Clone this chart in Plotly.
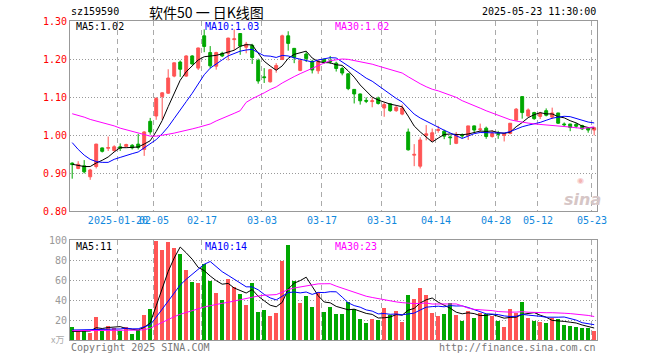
import pandas as pd
import plotly.graph_objects as go

dates = [
    "2025-01-08", "2025-01-09", "2025-01-10", "2025-01-13", "2025-01-14", "2025-01-15", "2025-01-16",
    "2025-01-17", "2025-01-20", "2025-01-21", "2025-01-22", "2025-01-23", "2025-01-24", "2025-01-27",
    "2025-02-05", "2025-02-06", "2025-02-07", "2025-02-10", "2025-02-11", "2025-02-12", "2025-02-13",
    "2025-02-14", "2025-02-17", "2025-02-18", "2025-02-19", "2025-02-20", "2025-02-21", "2025-02-24",
    "2025-02-25", "2025-02-26", "2025-02-27", "2025-02-28",
    "2025-03-03", "2025-03-04", "2025-03-05", "2025-03-06", "2025-03-07", "2025-03-10", "2025-03-11",
    "2025-03-12", "2025-03-13", "2025-03-14", "2025-03-17", "2025-03-18", "2025-03-19", "2025-03-20",
    "2025-03-21", "2025-03-24", "2025-03-25", "2025-03-26", "2025-03-27", "2025-03-28", "2025-03-31",
    "2025-04-01", "2025-04-02", "2025-04-03", "2025-04-07", "2025-04-08", "2025-04-09", "2025-04-10",
    "2025-04-11", "2025-04-14", "2025-04-15", "2025-04-16", "2025-04-17", "2025-04-18", "2025-04-21",
    "2025-04-22", "2025-04-23", "2025-04-24", "2025-04-25", "2025-04-28", "2025-04-29", "2025-04-30",
    "2025-05-06", "2025-05-07", "2025-05-08", "2025-05-09", "2025-05-12", "2025-05-13", "2025-05-14",
    "2025-05-15", "2025-05-16", "2025-05-19", "2025-05-20", "2025-05-21", "2025-05-22", "2025-05-23",
]

open_ = [0.926, 0.912, 0.919, 0.890, 0.917, 0.966, 0.965, 0.959, 0.969, 0.970,
         0.973, 0.976, 0.962, 1.036, 1.050, 1.101, 1.110, 1.155, 1.192, 1.155,
         1.208, 1.176, 1.261, 1.217, 1.181, 1.215, 1.215, 1.251, 1.267, 1.231,
         1.236, 1.196, 1.153, 1.140, 1.173, 1.199, 1.261, 1.228, 1.170, 1.213,
         1.194, 1.169, 1.199, 1.195, 1.189, 1.175, 1.161, 1.120, 1.108, 1.091,
         1.088, 1.097, 1.071, 1.082, 1.064, 1.055, 1.008, 0.947, 0.918, 0.999,
         0.985, 1.012, 1.010, 0.995, 0.978, 1.000, 0.999, 1.024, 1.014, 1.018,
         0.996, 1.004, 0.999, 1.004, 1.039, 1.101, 1.050, 1.059, 1.049, 1.064,
         1.047, 1.058, 1.029, 1.029, 1.028, 1.025, 1.018, 1.013]
high = [0.928, 0.931, 0.934, 0.911, 0.977, 0.967, 0.996, 0.973, 0.978, 0.977,
        0.976, 1.003, 1.010, 1.045, 1.100, 1.113, 1.173, 1.191, 1.196, 1.210,
        1.210, 1.230, 1.278, 1.234, 1.219, 1.219, 1.256, 1.278, 1.268, 1.245,
        1.240, 1.201, 1.176, 1.174, 1.189, 1.264, 1.273, 1.229, 1.201, 1.218,
        1.198, 1.199, 1.201, 1.208, 1.193, 1.180, 1.163, 1.121, 1.109, 1.099,
        1.099, 1.101, 1.085, 1.084, 1.078, 1.080, 1.017, 0.976, 0.994, 1.026,
        1.017, 1.024, 1.014, 0.999, 1.008, 1.004, 1.024, 1.025, 1.030, 1.022,
        1.013, 1.011, 1.006, 1.031, 1.071, 1.101, 1.070, 1.061, 1.061, 1.070,
        1.072, 1.058, 1.033, 1.029, 1.032, 1.027, 1.020, 1.020]
low = [0.885, 0.910, 0.899, 0.882, 0.912, 0.954, 0.958, 0.956, 0.958, 0.968,
       0.962, 0.962, 0.945, 1.001, 1.040, 1.040, 1.108, 1.152, 1.153, 1.153,
       1.185, 1.171, 1.218, 1.176, 1.172, 1.205, 1.196, 1.224, 1.211, 1.215,
       1.187, 1.135, 1.137, 1.138, 1.164, 1.197, 1.222, 1.189, 1.168, 1.192,
       1.162, 1.161, 1.188, 1.187, 1.167, 1.157, 1.118, 1.083, 1.080, 1.084,
       1.073, 1.080, 1.048, 1.061, 1.061, 1.052, 0.959, 0.918, 0.912, 0.986,
       0.983, 1.006, 0.989, 0.974, 0.976, 0.991, 0.987, 1.007, 1.007, 0.990,
       0.993, 0.990, 0.983, 1.002, 1.039, 1.043, 1.048, 1.040, 1.042, 1.049,
       1.042, 1.029, 1.022, 1.010, 1.018, 1.013, 1.006, 0.999]
close = [0.922, 0.923, 0.903, 0.908, 0.976, 0.957, 0.967, 0.969, 0.965, 0.975,
         0.966, 0.967, 1.008, 1.008, 1.096, 1.111, 1.150, 1.190, 1.173, 1.208,
         1.187, 1.229, 1.233, 1.182, 1.217, 1.208, 1.255, 1.253, 1.234, 1.239,
         1.204, 1.142, 1.151, 1.172, 1.183, 1.261, 1.241, 1.204, 1.196, 1.201,
         1.171, 1.194, 1.191, 1.193, 1.175, 1.163, 1.122, 1.108, 1.090, 1.089,
         1.090, 1.083, 1.080, 1.064, 1.073, 1.071, 0.961, 0.949, 0.987, 1.003,
         1.006, 1.014, 0.997, 0.993, 1.001, 0.998, 1.024, 1.013, 1.016, 0.996,
         1.004, 1.002, 1.004, 1.031, 1.068, 1.059, 1.066, 1.043, 1.058, 1.052,
         1.058, 1.031, 1.027, 1.020, 1.023, 1.016, 1.013, 1.019]
volume = [13, 9, 9, 7.5, 23, 9, 14, 12, 9, 13,
          6, 10, 25, 31, 99, 90, 98, 92, 86, 70,
          58, 57, 76, 59, 47, 40, 61, 53, 46, 35,
          57, 28, 30, 24, 27, 79, 95, 59, 37, 44,
          33, 48, 28, 33, 26, 26, 38, 31, 21, 17,
          21, 20, 32, 25, 29, 18, 45, 41, 52, 45,
          27, 24, 26, 37, 25, 19, 29, 22, 27, 26,
          24, 19, 13, 31, 27, 38, 22, 19, 18, 17,
          22, 21, 15, 14, 13, 12, 12, 9]

# moving-average values before the window fills
price_ma5_head = [0.923, 0.920, 0.917, 0.917]
price_ma10_head = [0.980, 0.962, 0.947, 0.936, 0.930, 0.928, 0.928, 0.936, 0.941]
price_ma30_head = [1.056, 1.052, 1.047, 1.041, 1.037, 1.034, 1.030, 1.024, 1.018, 1.014,
                   1.010, 1.005, 1.000, 0.997, 0.997, 0.999, 1.002, 1.005, 1.008, 1.012,
                   1.016, 1.020, 1.024, 1.029, 1.037, 1.043, 1.050, 1.057, 1.064]
vol_ma5_head = [8.5, 8.5, 8.5, 9.0]
vol_ma10_head = [10, 10, 10, 10, 10.3, 10.5, 10.7, 11, 11]
vol_ma30_head = [9.3, 9.3, 9.3, 9.3, 9.5, 9.5, 9.6, 9.6, 9.7, 9.7,
                 9.8, 9.9, 10.3, 11.7, 14.7, 17.7, 21, 23.3, 25.7, 27.7,
                 29.3, 31, 33, 34.3, 35.7, 36.7, 37.7, 39, 40.7]

tick_dates = ["2025-01-20", "2025-02-05", "2025-02-17", "2025-03-03", "2025-03-17",
              "2025-03-31", "2025-04-14", "2025-04-28", "2025-05-12", "2025-05-23"]
tick_text = ["2025-01-20", "02-05", "02-17", "03-03", "03-17",
             "03-31", "04-14", "04-28", "05-12", "05-23"]
price_ticks = [0.80, 0.90, 1.00, 1.10, 1.20, 1.30]
vol_ticks = [20, 40, 60, 80, 100]

RED = "#ff5555"
GREEN = "#00a800"
MONO = "DejaVu Sans Mono"

x = list(range(len(dates)))


def ma(values, n, head):
    s = pd.Series(values, dtype=float).rolling(n).mean()
    s.iloc[:len(head)] = head
    return s.tolist()


pma5 = ma(close, 5, price_ma5_head)
pma10 = ma(close, 10, price_ma10_head)
pma30 = ma(close, 30, price_ma30_head)
vma5 = ma(volume, 5, vol_ma5_head)
vma10 = ma(volume, 10, vol_ma10_head)
vma30 = ma(volume, 30, vol_ma30_head)

bar_colors = [RED if c >= o else GREEN for o, c in zip(open_, close)]

fig = go.Figure()
fig.add_trace(go.Candlestick(
    x=x, open=open_, high=high, low=low, close=close,
    increasing=dict(line=dict(color=RED, width=1), fillcolor=RED),
    decreasing=dict(line=dict(color=GREEN, width=1), fillcolor=GREEN),
    whiskerwidth=0, hoverinfo="skip", xaxis="x", yaxis="y", showlegend=False))
for vals, col in [(pma5, "#000000"), (pma10, "#0000ff"), (pma30, "#ff00ff")]:
    fig.add_trace(go.Scatter(x=x, y=vals, mode="lines", line=dict(color=col, width=1),
                             hoverinfo="skip", xaxis="x", yaxis="y", showlegend=False))

fig.add_trace(go.Bar(x=x, y=volume, marker=dict(color=bar_colors, line=dict(width=0)),
                     width=0.74, hoverinfo="skip", xaxis="x2", yaxis="y2", showlegend=False))
for vals, col in [(vma5, "#000000"), (vma10, "#0000ff"), (vma30, "#ff00ff")]:
    fig.add_trace(go.Scatter(x=x, y=vals, mode="lines", line=dict(color=col, width=1),
                             hoverinfo="skip", xaxis="x2", yaxis="y2", showlegend=False))

tickvals = [dates.index(d) - 0.37 for d in tick_dates]
xrange = [-0.367, 87.47]

W, H = 660, 360
L, R, T, B = 70, 63, 21, 20
PW, PH = W - L - R, H - T - B


def px(xp):
    return (xp - L) / PW


def py(yp):
    return (H - B - yp) / PH


frame = dict(showline=True, mirror=True, linecolor="#999999", linewidth=1, zeroline=False,
             automargin=False)

fig.update_layout(
    width=W, height=H, margin=dict(l=L, r=R, t=T, b=B, autoexpand=False),
    paper_bgcolor="white", plot_bgcolor="white", boxgap=0.3, bargap=0,
    showlegend=False, hovermode=False,
    xaxis=dict(domain=[0, 1], range=xrange, anchor="y", tickvals=tickvals, ticktext=tick_text,
               tickangle=0, tickfont=dict(family=MONO, size=10, color="#1188dd"), ticks="",
               showgrid=True, gridcolor="#aaaaaa", griddash="5px,4px", gridwidth=1,
               rangeslider=dict(visible=False), **frame),
    yaxis=dict(domain=[py(211), 1], range=[0.8, 1.3], tickvals=price_ticks,
               ticktext=[f"{v:.2f}" for v in price_ticks],
               tickfont=dict(family=MONO, size=10, color="#ff0000"), ticks="",
               showgrid=True, gridcolor="#999999", griddash="1px,2px", gridwidth=1, **frame),
    xaxis2=dict(domain=[0, 1], range=xrange, anchor="y2", tickvals=tickvals, showticklabels=False,
                ticks="", showgrid=True, gridcolor="#aaaaaa", griddash="5px,4px", gridwidth=1, **frame),
    yaxis2=dict(domain=[0, py(240)], range=[0, 100], tickvals=vol_ticks,
                ticktext=[str(v) for v in vol_ticks],
                tickfont=dict(family=MONO, size=10, color="#999999"), ticks="",
                showgrid=True, gridcolor="#999999", griddash="1px,2px", gridwidth=1, **frame),
)


def note(text, xp, yp, anchor="left", color="#000000", size=10, family=MONO):
    fig.add_annotation(text=text, x=px(xp), y=py(yp), xref="paper", yref="paper",
                       xanchor=anchor, yanchor="middle", showarrow=False,
                       font=dict(family=family, size=size, color=color))


note("sz159590", 69, 12)
note("软件50 一 日K线图", 206, 12, anchor="center", size=14, family="Noto Sans CJK SC")
note("2025-05-23 11:30:00", 598, 12, anchor="right")
note(f"MA5:{pma5[-1]:.2f}", 74, 27)
note(f"MA10:{pma10[-1]:.2f}", 203, 27, color="#0000ff")
note(f"MA30:{pma30[-1]:.2f}", 333, 27, color="#ff00ff")
note("MA5:11", 74, 246)
note("MA10:14", 203, 246, color="#0000ff")
note("MA30:23", 333, 246, color="#ff00ff")
note("x万", 66, 339, anchor="right", color="#aaaaaa", size=9, family="Noto Sans CJK SC")
note("Copyright 2025 SINA.COM", 69, 347, color="#777777")
note("http://finance.sina.com.cn", 598, 347, anchor="right", color="#777777")
note("<b><i>sina</i></b>", 582, 199, anchor="center", color="#d6c6c6", size=16, family="DejaVu Sans")
note("◉", 580, 180, anchor="center", color="#f3b5b5", size=8, family="DejaVu Sans")

fig.write_html("out.html", config={"displayModeBar": False, "staticPlot": True},
               post_script="document.body.style.margin='0px';")
